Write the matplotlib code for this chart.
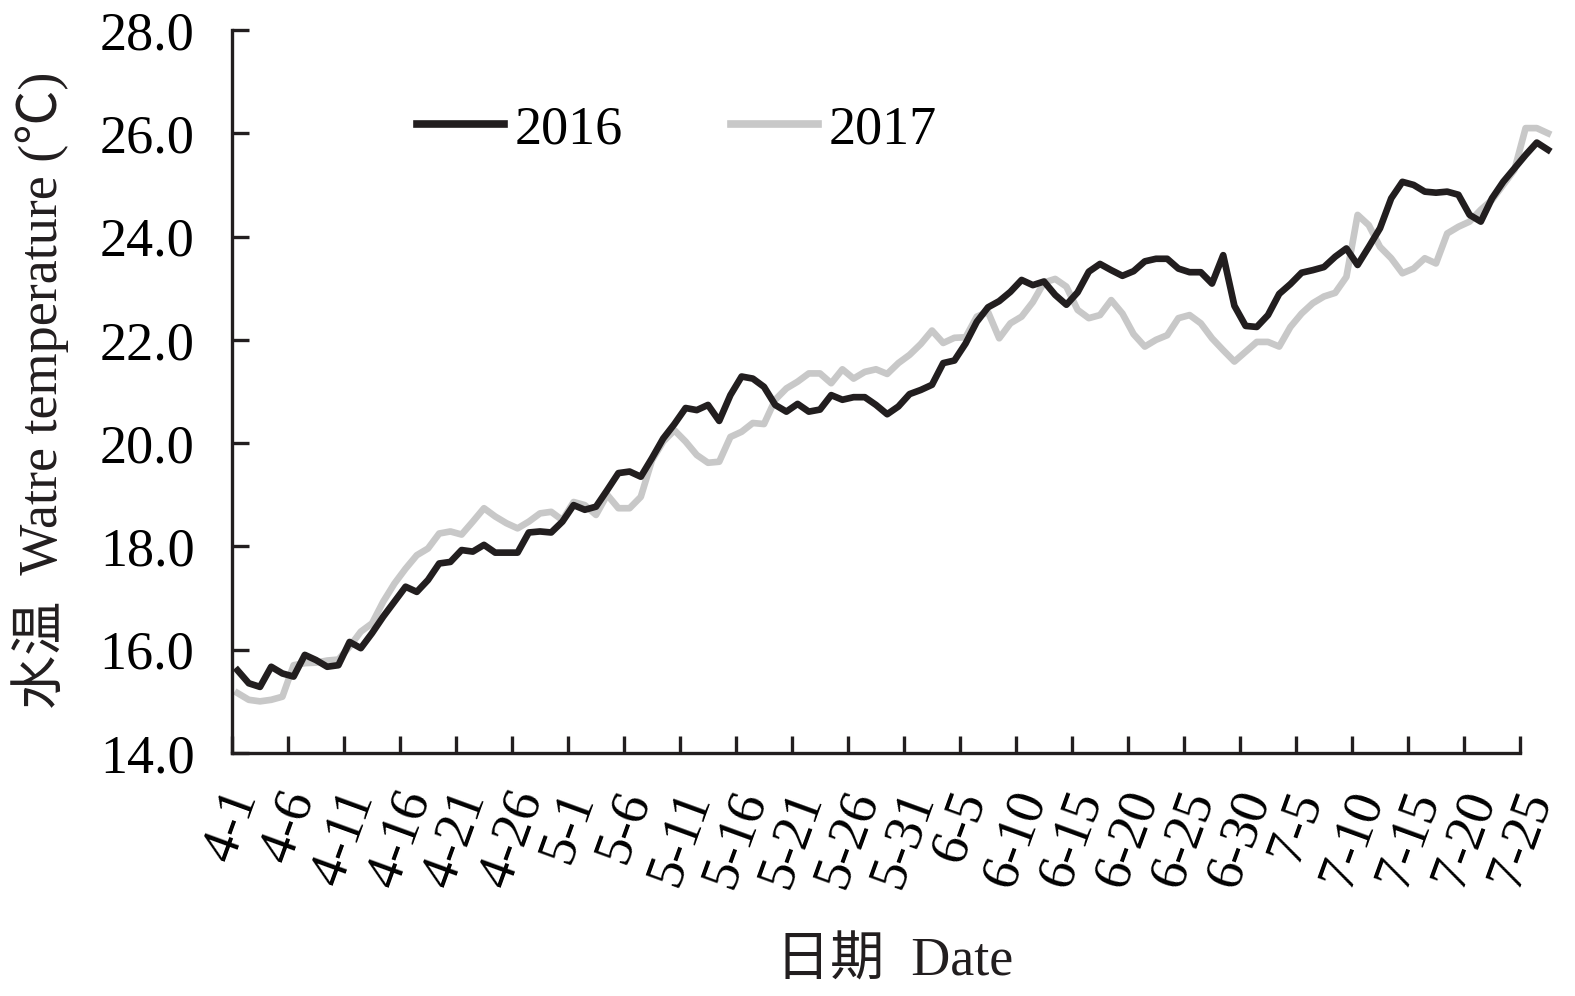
import matplotlib
matplotlib.use("Agg")
import matplotlib.pyplot as plt
import pandas as pd

# даты 4-1 ... 7-27 (118 дней)
dates = pd.date_range("2016-04-01", periods=118)
date_labels = [f"{d.month}-{d.day}" for d in dates]

# температура воды, 2016
temp_2016 = [
    15.60, 15.35, 15.28, 15.67, 15.54, 15.48, 15.90, 15.80, 15.67, 15.70,
    16.15, 16.03, 16.32, 16.64, 16.93, 17.22, 17.12, 17.35, 17.67, 17.70,
    17.93, 17.90, 18.03, 17.88, 17.88, 17.88, 18.27, 18.29, 18.27, 18.48,
    18.80, 18.71, 18.77, 19.09, 19.42, 19.45, 19.35, 19.71, 20.09, 20.37,
    20.68, 20.64, 20.74, 20.43, 20.93, 21.29, 21.25, 21.09, 20.74, 20.61,
    20.76, 20.61, 20.65, 20.93, 20.84, 20.89, 20.89, 20.74, 20.56, 20.71,
    20.95, 21.03, 21.13, 21.55, 21.60, 21.93, 22.35, 22.63, 22.75, 22.93,
    23.16, 23.06, 23.13, 22.87, 22.68, 22.92, 23.32, 23.47, 23.35, 23.24,
    23.33, 23.52, 23.57, 23.57, 23.38, 23.31, 23.31, 23.09, 23.64, 22.66,
    22.27, 22.25, 22.48, 22.89, 23.08, 23.30, 23.35, 23.41, 23.61, 23.77,
    23.45, 23.80, 24.16, 24.74, 25.06, 25.00, 24.87, 24.85, 24.87, 24.81,
    24.42, 24.29, 24.74, 25.06, 25.32, 25.58, 25.82, 25.68,
]

# температура воды, 2017
temp_2017 = [
    15.16, 15.03, 15.00, 15.03, 15.09, 15.70, 15.74, 15.75, 15.79, 15.81,
    16.06, 16.35, 16.51, 16.93, 17.28, 17.57, 17.83, 17.96, 18.25, 18.29,
    18.23, 18.48, 18.74, 18.58, 18.45, 18.35, 18.48, 18.64, 18.67, 18.51,
    18.86, 18.80, 18.61, 19.00, 18.74, 18.74, 18.96, 19.67, 20.03, 20.25,
    20.03, 19.77, 19.62, 19.64, 20.12, 20.22, 20.39, 20.37, 20.84, 21.06,
    21.19, 21.35, 21.35, 21.16, 21.43, 21.25, 21.38, 21.43, 21.34, 21.55,
    21.71, 21.92, 22.18, 21.94, 22.04, 22.05, 22.45, 22.54, 22.03, 22.32,
    22.45, 22.73, 23.11, 23.18, 23.03, 22.58, 22.42, 22.48, 22.77, 22.51,
    22.11, 21.87, 22.00, 22.09, 22.42, 22.48, 22.32, 22.03, 21.80, 21.58,
    21.77, 21.96, 21.96, 21.87, 22.25, 22.51, 22.71, 22.84, 22.91, 23.22,
    24.42, 24.22, 23.80, 23.58, 23.29, 23.38, 23.58, 23.48, 24.06, 24.19,
    24.29, 24.52, 24.71, 25.00, 25.29, 26.10, 26.10, 26.00,
]

y_ticks = [14, 16, 18, 20, 22, 24, 26, 28]

FONT = ["Liberation Serif", "Noto Sans CJK SC"]
plt.rcParams["font.family"] = FONT
FS = 39

fig = plt.figure(figsize=(15.75, 9.96), dpi=100)
ax = fig.add_axes([232 / 1575, 1 - 753 / 996, 1288 / 1575, 723 / 996])

# точки стоят между делениями (как в Excel)
x = [i + 0.5 for i in range(len(dates))]
ax.plot(x, temp_2016, color="#221e1f", lw=4.8, label="2016", clip_on=False, zorder=3)
ax.plot(x, temp_2017, color="#c8c8c8", lw=4.8, label="2017", clip_on=False, zorder=2)

ax.set_xlim(0, 115)
ax.set_ylim(14, 28)

tick_pos = list(range(0, 116, 5))
ax.set_xticks(tick_pos)
ax.set_xticklabels([date_labels[p] for p in tick_pos], rotation=70, fontsize=FS)
ax.set_yticks(y_ticks)
ax.set_yticklabels([f"{v:.1f}" for v in y_ticks], fontsize=FS)

ax.tick_params(axis="x", direction="in", length=12, width=2.4, pad=22, color="#221e1f")
ax.tick_params(axis="y", direction="in", length=12, width=2.4, pad=27, color="#221e1f")

for s in ["top", "right"]:
    ax.spines[s].set_visible(False)
for s in ["left", "bottom"]:
    ax.spines[s].set_linewidth(2.4)
    ax.spines[s].set_color("#221e1f")

leg = ax.legend(loc="center", bbox_to_anchor=(0.3455, 0.862), ncol=2, frameon=False,
                fontsize=FS, handlelength=1.6, handletextpad=0.2, columnspacing=2.0)
for line in leg.get_lines():
    line.set_linewidth(5.5)

fig.text(40 / 1575, 1 - 390 / 996, "水温  Watre temperature (℃)", rotation=90,
         ha="center", va="center", fontsize=FS, color="#221e1f")
fig.text(895 / 1575, 1 - 962 / 996, "日期  Date", ha="center", va="center",
         fontsize=FS, color="#221e1f")

fig.savefig("out.png", dpi=100)
